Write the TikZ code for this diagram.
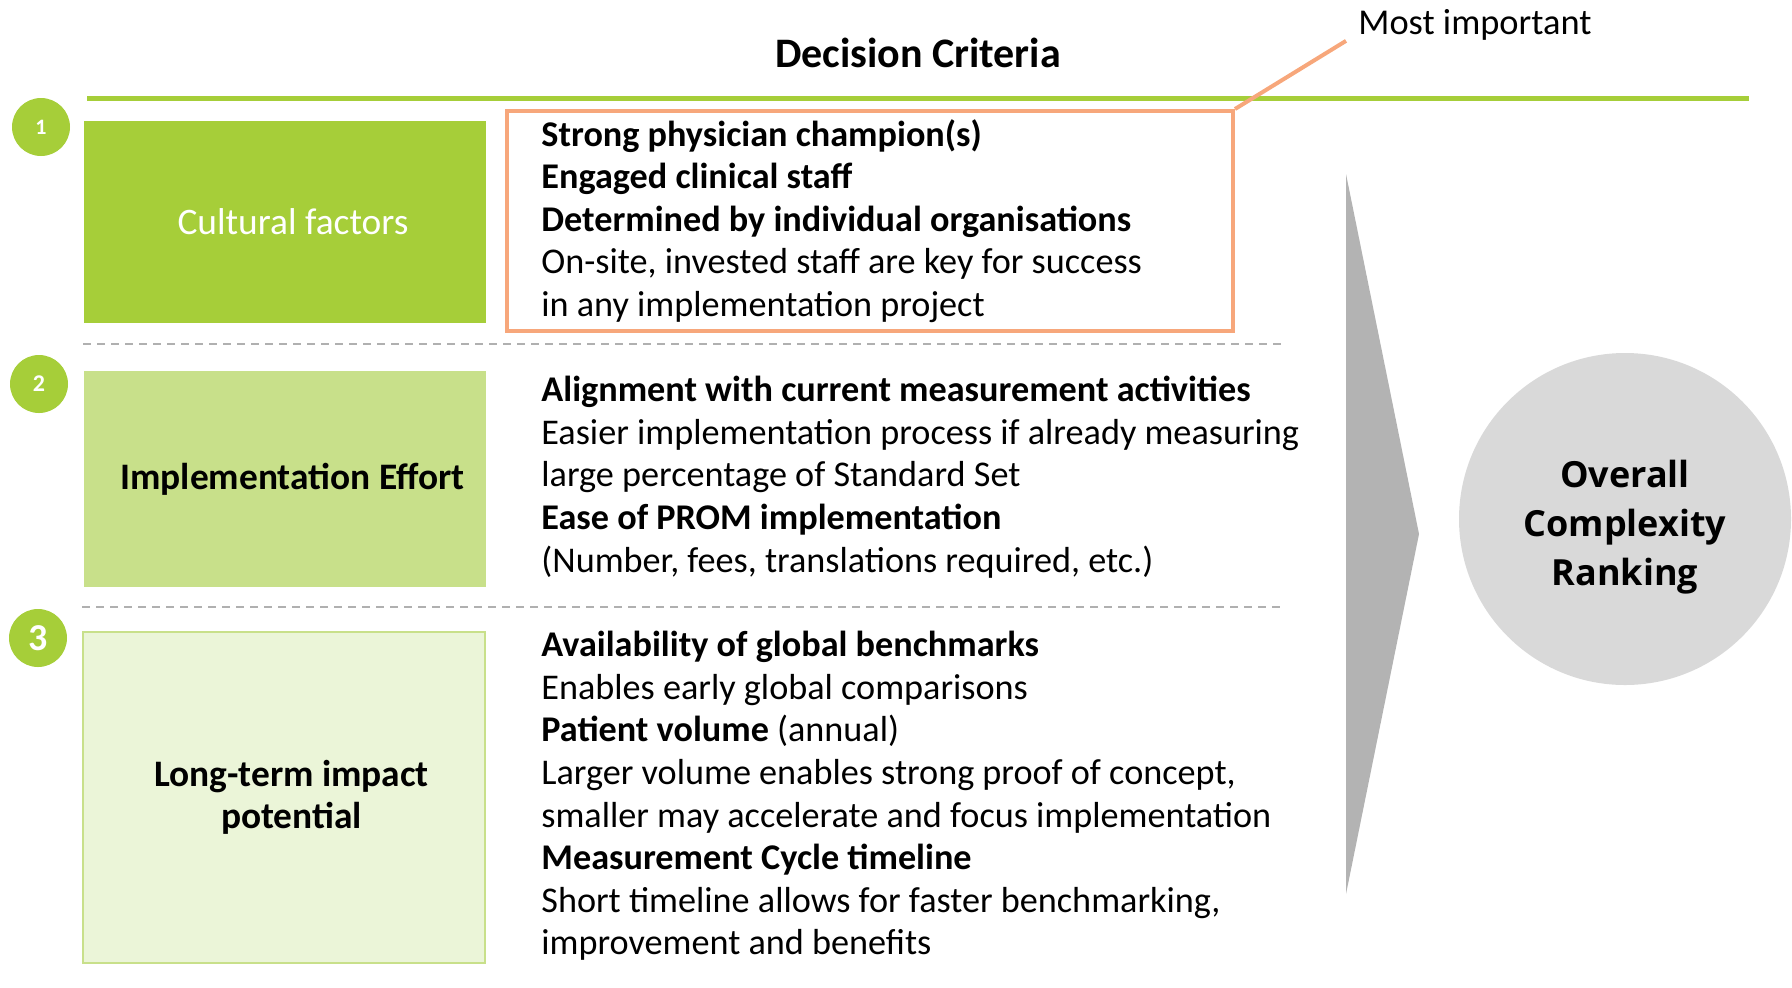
\documentclass[tikz,border=0pt]{standalone}
\usepackage{fontspec}
\setmainfont{Carlito}
\newfontfamily\rankfont{Open Sans}
\definecolor{leafGreen}{HTML}{A6CE39}
\definecolor{paleGreen}{HTML}{C8E08A}
\definecolor{mistGreen}{HTML}{EBF5D8}
\definecolor{peachLine}{HTML}{F7A77B}
\definecolor{rankGrey}{HTML}{D9D9D9}
\definecolor{wedgeGrey}{HTML}{B3B3B3}
\definecolor{dashGrey}{HTML}{B0B0B0}
\usetikzlibrary{positioning}

\begin{document}
\begin{tikzpicture}[
    x=0.5pt, y=-0.5pt,
    factor/.style={rectangle, minimum width=201pt, inner sep=0pt},
    factorlabel/.style={align=center, inner sep=0pt, font=\fontsize{18.7}{21}\selectfont},
    badge/.style={circle, fill=leafGreen, minimum size=29pt, inner sep=0pt,
                  text=white, font=\bfseries},
    crit/.style={anchor=west, align=left, inner sep=0pt, font=\fontsize{18.1}{21.3}\selectfont},
    divider/.style={dashGrey, line width=1pt, dash pattern=on 4pt off 3pt},
    note/.style={font=\fontsize{18.2}{21}\selectfont, inner sep=0pt}
  ]
    \useasboundingbox (0,0) rectangle (1792,987);

    % heading and top rule
    \node[font=\fontsize{21}{25}\selectfont\bfseries] (title) at (918,53) {Decision Criteria};
    \draw[leafGreen, line width=2.5pt] (87,98) -- (1749,98);

    % factor boxes with their numbers
    \node[factor, fill=leafGreen, minimum height=101pt] (cult) at (285,222) {};
    \node[factor, fill=paleGreen, minimum height=108pt] (effort) at (284.5,479) {};
    \node[factor, fill=mistGreen, draw=paleGreen, line width=1pt, minimum height=165.5pt] (impact) at (283.5,797.5) {};
    \node[factorlabel, text=white] (cultText) at ([xshift=4pt]cult.center) {Cultural factors};
    \node[factorlabel, font=\fontsize{18.7}{21}\selectfont\bfseries] (effortText) at ([xshift=4pt]effort.center) {Implementation Effort};
    \node[factorlabel, font=\fontsize{18.7}{21}\selectfont\bfseries] (impactText) at ([xshift=4pt]impact.center) {Long-term impact\\potential};
    \node[badge, font=\fontsize{11}{13}\selectfont\bfseries] (b1) at (41,127) {1};
    \node[badge, font=\fontsize{12}{14}\selectfont\bfseries] (b2) at (39,384) {2};
    \node[badge, font=\fontsize{19}{22}\selectfont\bfseries] (b3) at (38,638) {3};

    \draw[divider] (83,344) -- (1282,344);
    \draw[divider] (82,607) -- (1280,607);

    % criteria text
    \node[crit] (crit1) at (541,221) {\textbf{Strong physician champion(s)}\\
      \textbf{Engaged clinical staff}\\
      \textbf{Determined by individual organisations}\\
      On-site, invested staff are key for success\\
      in any implementation project};
    \node[crit] (crit2) at (541,477) {\textbf{Alignment with current measurement activities}\\
      Easier implementation process if already measuring\\
      large percentage of Standard Set\\
      \textbf{Ease of PROM implementation}\\
      (Number, fees, translations required, etc.)};
    \node[crit] (crit3) at (541,796) {\textbf{Availability of global benchmarks}\\
      Enables early global comparisons\\
      \textbf{Patient volume} (annual)\\
      Larger volume enables strong proof of concept,\\
      smaller may accelerate and focus implementation\\
      \textbf{Measurement Cycle timeline}\\
      Short timeline allows for faster benchmarking,\\
      improvement and benefits};

    % highlight on the first group
    \node[draw=peachLine, line width=2pt, minimum width=363pt, minimum height=110pt] (top) at (870,221) {};
    \node[note, anchor=west] (most) at (1358,25) {Most important};
    \draw[peachLine, line width=2pt] (top.north east) -- ([xshift=-6pt]most.south west);

    % wedge and overall ranking
    \fill[wedgeGrey] (1346,174) -- (1419,534) -- (1346,894) -- cycle;
    \node[circle, fill=rankGrey, minimum size=166pt, inner sep=0pt] (rank) at (1625,519) {};
    \node[align=center, inner sep=0pt, font=\rankfont\fontsize{18}{24.5}\selectfont\bfseries] (rankText)
      at ([yshift=-4pt]rank.center) {Overall\\Complexity\\Ranking};
  \end{tikzpicture}
\end{document}
